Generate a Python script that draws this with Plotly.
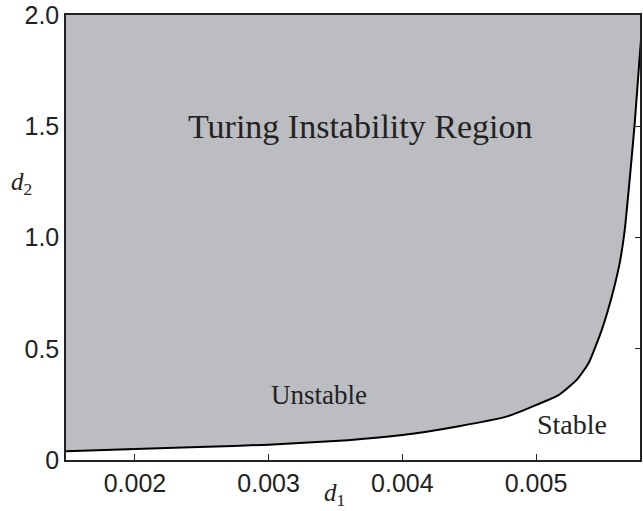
import plotly.graph_objects as go

# Turing instability boundary in the (d1, d2) diffusion-coefficient plane
d1_boundary = [0.001484, 0.002, 0.002477, 0.003, 0.003593, 0.004, 0.004413,
               0.004785, 0.005008, 0.005172, 0.005306, 0.005395, 0.005492,
               0.005566, 0.005626, 0.005663, 0.0057, 0.005737, 0.005775, 0.0058]
d2_boundary = [0.039, 0.049, 0.058, 0.069, 0.089, 0.112, 0.151,
               0.196, 0.249, 0.293, 0.361, 0.437, 0.585,
               0.733, 0.885, 1.03, 1.256, 1.503, 1.807, 2.0]

x_range = [0.001484, 0.005778]
y_range = [0.0, 2.0002]
x_ticks = [0.002, 0.003, 0.004, 0.005]
x_ticklabels = ["0.002", "0.003", "0.004", "0.005"]
y_ticks = [0.0, 0.5, 1.0, 1.5, 2.0]
y_ticklabels = ["0", "0.5", "1.0", "1.5", "2.0"]

fill_color = "rgb(188,189,193)"
ink = "#222222"
serif = "Liberation Serif, Times New Roman, serif"
sans = "Liberation Sans, Arial, Helvetica, sans-serif"

fig = go.Figure()

# upper edge of the shaded region
fig.add_trace(go.Scatter(
    x=[d1_boundary[0], d1_boundary[-1]], y=[y_range[1], y_range[1]],
    mode="lines", line=dict(width=0, color=fill_color),
    hoverinfo="skip", showlegend=False,
))
# boundary curve, shaded up to the top edge
fig.add_trace(go.Scatter(
    x=d1_boundary, y=d2_boundary,
    mode="lines", line=dict(color="black", width=2, shape="spline", smoothing=0.5),
    fill="tonexty", fillcolor=fill_color,
    showlegend=False,
))
# invisible trace to carry the right-hand tick marks
fig.add_trace(go.Scatter(x=[None], y=[None], yaxis="y2", showlegend=False))

fig.update_layout(
    width=643, height=511,
    margin=dict(l=66, r=1, t=14, b=51),
    paper_bgcolor="white", plot_bgcolor="white",
    xaxis=dict(
        range=x_range, tickvals=x_ticks, ticktext=x_ticklabels,
        ticks="inside", ticklen=6, tickcolor=ink, tickwidth=1,
        showline=True, linecolor=ink, linewidth=1.5, mirror=True,
        showgrid=False, zeroline=False,
        tickfont=dict(family=sans, size=25, color=ink),
    ),
    yaxis=dict(
        range=y_range, tickvals=y_ticks, ticktext=y_ticklabels,
        ticks="", showline=True, linecolor=ink, linewidth=1.5, mirror=True,
        showgrid=False, zeroline=False, ticklabeloverflow="allow",
        tickfont=dict(family=sans, size=25, color=ink),
    ),
    yaxis2=dict(
        range=y_range, overlaying="y", side="right",
        tickvals=[0.5, 1.0, 1.5], ticks="inside", ticklen=5,
        tickcolor=ink, tickwidth=1, showticklabels=False,
        showgrid=False, zeroline=False, showline=False,
    ),
    annotations=[
        dict(text="Turing Instability Region", x=0.003683, y=1.50, xref="x", yref="y",
             showarrow=False, font=dict(family=serif, size=34, color=ink)),
        dict(text="Unstable", x=0.003378, y=0.29, xref="x", yref="y",
             showarrow=False, font=dict(family=serif, size=27, color=ink)),
        dict(text="Stable", x=0.005269, y=0.16, xref="x", yref="y",
             showarrow=False, font=dict(family=serif, size=28, color=ink)),
        dict(text="<i>d</i><sub>1</sub>", x=0.00349, y=-0.077, xref="x", yref="paper",
             showarrow=False, yanchor="middle",
             font=dict(family=serif, size=25, color=ink)),
        dict(text="<i>d</i><sub>2</sub>", x=-0.078, y=1.243, xref="paper", yref="y",
             showarrow=False, xanchor="center",
             font=dict(family=serif, size=25, color=ink)),
    ],
)

fig.write_html("out.html")
